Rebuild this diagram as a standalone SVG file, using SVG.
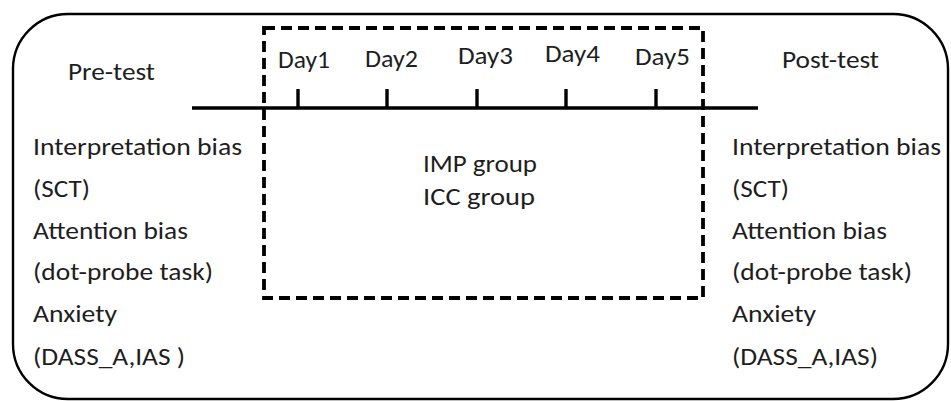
<svg xmlns="http://www.w3.org/2000/svg" width="951" height="401" viewBox="0 0 951 401">
<style>
text{font-family:"Carlito","Lato","Liberation Sans",sans-serif;font-size:25.5px;font-weight:400;fill:#1e1e1e}
.frame{fill:none;stroke:#000;stroke-width:2.4}
.dash{fill:none;stroke:#000;stroke-width:3.8;stroke-dasharray:11 6}
.line{stroke:#000;stroke-width:3.4;fill:none}
</style>
<rect width="951" height="401" fill="#fff"/>
<g id="outer-frame"><rect class="frame" x="13" y="14" width="935" height="385" rx="55" ry="55"/></g>
<g id="intervention-box"><rect class="dash" x="264" y="28" width="439" height="270"/></g>
<g id="connectors">
<line class="line" x1="192" y1="108" x2="758" y2="108"/>
<line class="line" x1="298" y1="89" x2="298" y2="108"/>
<line class="line" x1="387" y1="89" x2="387" y2="108"/>
<line class="line" x1="477" y1="89" x2="477" y2="108"/>
<line class="line" x1="566" y1="89" x2="566" y2="108"/>
<line class="line" x1="656" y1="89" x2="656" y2="108"/>
</g>
<g id="pre-test">
<text x="68" y="80" textLength="87" lengthAdjust="spacingAndGlyphs">Pre-test</text>
<text x="33" y="155" textLength="209" lengthAdjust="spacingAndGlyphs">Interpretation bias</text>
<text x="33" y="197" textLength="57" lengthAdjust="spacingAndGlyphs">(SCT)</text>
<text x="33" y="239" textLength="155" lengthAdjust="spacingAndGlyphs">Attention bias</text>
<text x="33" y="280" textLength="180" lengthAdjust="spacingAndGlyphs">(dot-probe task)</text>
<text x="33" y="322" textLength="84" lengthAdjust="spacingAndGlyphs">Anxiety</text>
<text x="33" y="365" textLength="152" lengthAdjust="spacingAndGlyphs">(DASS_A,IAS )</text>
</g>
<g id="days">
<text x="278" y="68" textLength="52" lengthAdjust="spacingAndGlyphs">Day1</text>
<text x="365" y="67" textLength="53" lengthAdjust="spacingAndGlyphs">Day2</text>
<text x="458" y="64" textLength="55" lengthAdjust="spacingAndGlyphs">Day3</text>
<text x="545" y="62" textLength="55" lengthAdjust="spacingAndGlyphs">Day4</text>
<text x="635" y="65" textLength="55" lengthAdjust="spacingAndGlyphs">Day5</text>
</g>
<g id="groups">
<text x="423" y="172" textLength="114" lengthAdjust="spacingAndGlyphs">IMP group</text>
<text x="423" y="205" textLength="112" lengthAdjust="spacingAndGlyphs">ICC group</text>
</g>
<g id="post-test">
<text x="782" y="68" textLength="97" lengthAdjust="spacingAndGlyphs">Post-test</text>
<text x="732" y="155" textLength="209" lengthAdjust="spacingAndGlyphs">Interpretation bias</text>
<text x="732" y="197" textLength="57" lengthAdjust="spacingAndGlyphs">(SCT)</text>
<text x="732" y="239" textLength="155" lengthAdjust="spacingAndGlyphs">Attention bias</text>
<text x="732" y="280" textLength="180" lengthAdjust="spacingAndGlyphs">(dot-probe task)</text>
<text x="732" y="322" textLength="84" lengthAdjust="spacingAndGlyphs">Anxiety</text>
<text x="732" y="365" textLength="146" lengthAdjust="spacingAndGlyphs">(DASS_A,IAS)</text>
</g>
</svg>
